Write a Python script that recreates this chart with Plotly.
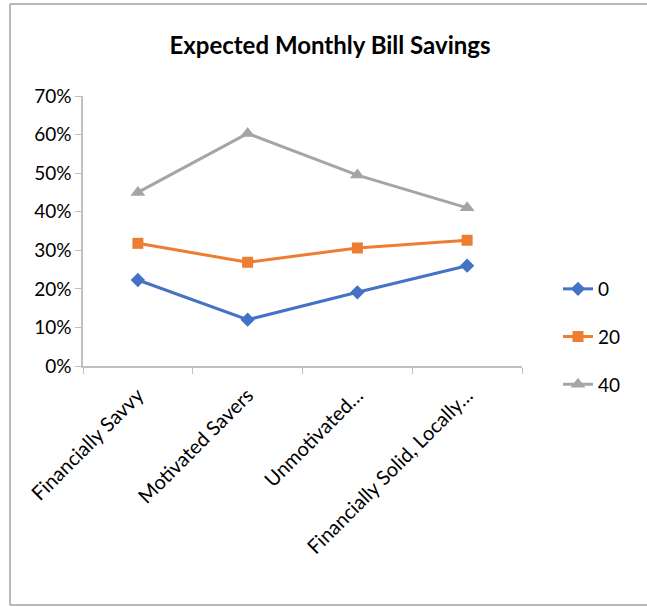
import plotly.graph_objects as go

# Segments and savings share for each offered amount
categories = ["Financially Savvy", "Motivated Savers", "Unmotivated…", "Financially Solid, Locally…"]
series_names = ["0", "20", "40"]
savings_0 = [0.223, 0.120, 0.191, 0.260]
savings_20 = [0.318, 0.269, 0.306, 0.326]
savings_40 = [0.450, 0.603, 0.495, 0.410]
y_ticks = [0, 0.1, 0.2, 0.3, 0.4, 0.5, 0.6, 0.7]

series_values = [savings_0, savings_20, savings_40]
colors = ["#4472C4", "#ED7D31", "#A5A5A5"]
symbols = ["diamond", "square", "triangle-up"]
marker_sizes = [11, 11, 13]

FONT = "Lato"

fig = go.Figure()
for name, vals, col, sym, ms in zip(series_names, series_values, colors, symbols, marker_sizes):
    fig.add_trace(go.Scatter(
        x=categories, y=vals, name=name, mode="lines+markers",
        line=dict(color=col, width=3),
        marker=dict(symbol=sym, size=ms, color=col),
        legendgroup=name,
    ))

W, H = 647, 607
L, R, T, B = 83, 125, 96, 241
pw, ph = W - L - R, H - T - B


def px_x(px):
    return (px - L) / pw


def px_y(py):
    return (H - B - py) / ph


# Chart frame: left, top and bottom edges (the right edge runs past the page)
frame = dict(color="#A0A0A0", width=1.5)
border = [
    dict(type="line", xref="paper", yref="paper", x0=px_x(10), x1=px_x(10),
         y0=px_y(605), y1=px_y(4), line=frame, layer="below"),
    dict(type="line", xref="paper", yref="paper", x0=px_x(10), x1=px_x(W + 5),
         y0=px_y(4), y1=px_y(4), line=frame, layer="below"),
    dict(type="line", xref="paper", yref="paper", x0=px_x(10), x1=px_x(W + 5),
         y0=px_y(605), y1=px_y(605), line=frame, layer="below"),
]

fig.update_layout(
    width=W, height=H,
    margin=dict(l=L, r=R, t=T, b=B),
    paper_bgcolor="white", plot_bgcolor="white",
    font=dict(family=FONT, size=19, color="#000000"),
    title=dict(text="<b>Expected Monthly Bill Savings</b>", x=px_x(330), xref="paper",
               xanchor="center", y=1 - 46 / H, yanchor="middle",
               font=dict(family=FONT, size=24, color="#000000")),
    showlegend=True,
    legend=dict(x=px_x(558), y=px_y(337), xanchor="left", yanchor="middle",
                traceorder="grouped", tracegroupgap=20,
                font=dict(family=FONT, size=19, color="#000000"),
                bgcolor="rgba(0,0,0,0)"),
    xaxis=dict(range=[-0.5, 3.5], showline=True, linecolor="#BFBFBF", linewidth=1.5,
               ticks="outside", tickson="boundaries", ticklen=6, tickcolor="#BFBFBF",
               tickangle=-45, ticklabelstandoff=8, showgrid=False, zeroline=False,
               tickfont=dict(family=FONT, size=20, color="#000000")),
    yaxis=dict(range=[0, 0.7], tickvals=y_ticks, tickformat=".0%", showline=True,
               linecolor="#BFBFBF", linewidth=1.5, ticks="outside", ticklen=6,
               tickcolor="#BFBFBF", showgrid=False, zeroline=False,
               tickfont=dict(family=FONT, size=19, color="#000000")),
    shapes=border,
)

fig.write_html("out.html")
